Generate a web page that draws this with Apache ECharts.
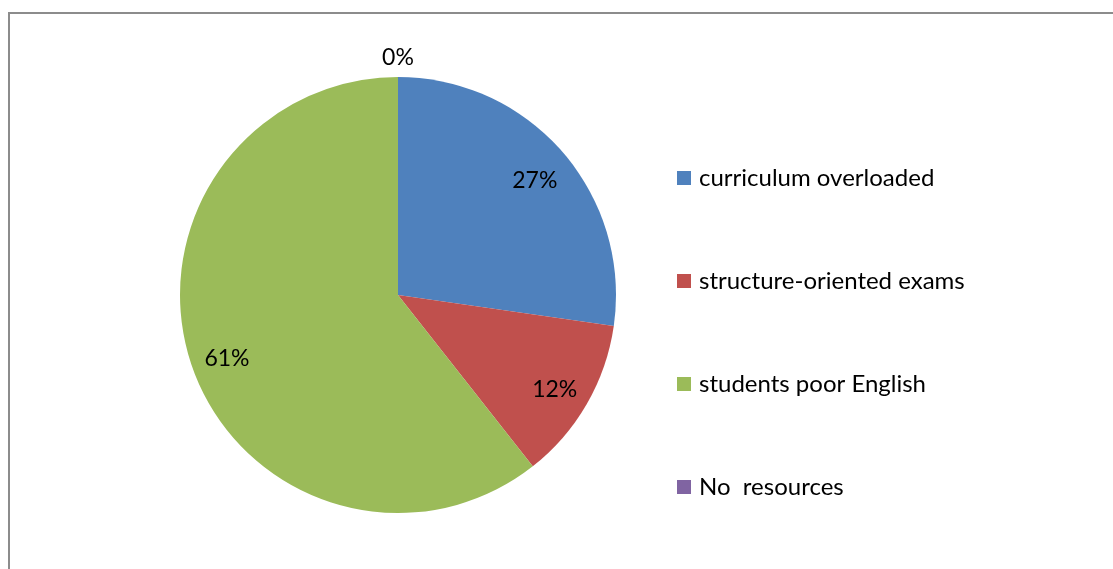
<!DOCTYPE html>
<html>
<head>
<meta charset="utf-8">
<script src="https://cdn.jsdelivr.net/npm/echarts@6/dist/echarts.min.js"></script>
<style>
  html, body { margin: 0; padding: 0; background: #fff; }
  #frame { position: absolute; left: 8px; top: 12px; width: 1200px; height: 700px; border: 2px solid #8c8c8c; box-sizing: border-box; }
  #chart { position: absolute; left: 0; top: 0; width: 1113px; height: 569px; }
</style>
</head>
<body>
<div id="frame"></div>
<div id="chart"></div>
<script>
const categories = ['curriculum overloaded', 'structure-oriented exams', 'students poor English', 'No  resources'];
const values = [9, 4, 20, 0];
const colors = ['#4F81BD', '#C0504D', '#9BBB59', '#8064A2'];

const font = 'Lato, "Open Sans", "Liberation Sans", sans-serif';
const pieData = categories.map((name, i) => ({ name, value: values[i], itemStyle: { color: colors[i] } }));
const labelData = categories.map((name, i) => ({
  name, value: values[i],
  label: values[i] === 0 ? { offset: [0, -56] } : { offset: [0, 4] }
}));

const chart = echarts.init(document.getElementById('chart'), null, { renderer: 'canvas' });
chart.setOption({
  animation: false,
  backgroundColor: 'transparent',
  legend: {
    orient: 'vertical',
    left: 672,
    top: 161,
    itemWidth: 14,
    itemHeight: 14,
    itemGap: 79,
    itemStyle: { borderWidth: 0 },
    icon: 'rect',
    data: categories,
    textStyle: { fontFamily: font, fontSize: 24, color: '#000', padding: [0, 0, 0, 3] }
  },
  series: [
    {
      type: 'pie',
      center: [398, 295],
      radius: [0, 218],
      startAngle: 90,
      clockwise: true,
      silent: true,
      label: { show: false },
      labelLine: { show: false },
      data: pieData
    },
    {
      type: 'pie',
      center: [398, 295],
      radius: [138, 218],
      startAngle: 90,
      clockwise: true,
      silent: true,
      legendHoverLink: false,
      itemStyle: { color: 'rgba(0,0,0,0)' },
      label: {
        show: true,
        position: 'inside',
        formatter: p => Math.round(p.percent) + '%',
        fontFamily: font,
        fontSize: 23,
        color: '#000'
      },
      labelLine: { show: false },
      data: labelData
    }
  ]
});
</script>
</body>
</html>
